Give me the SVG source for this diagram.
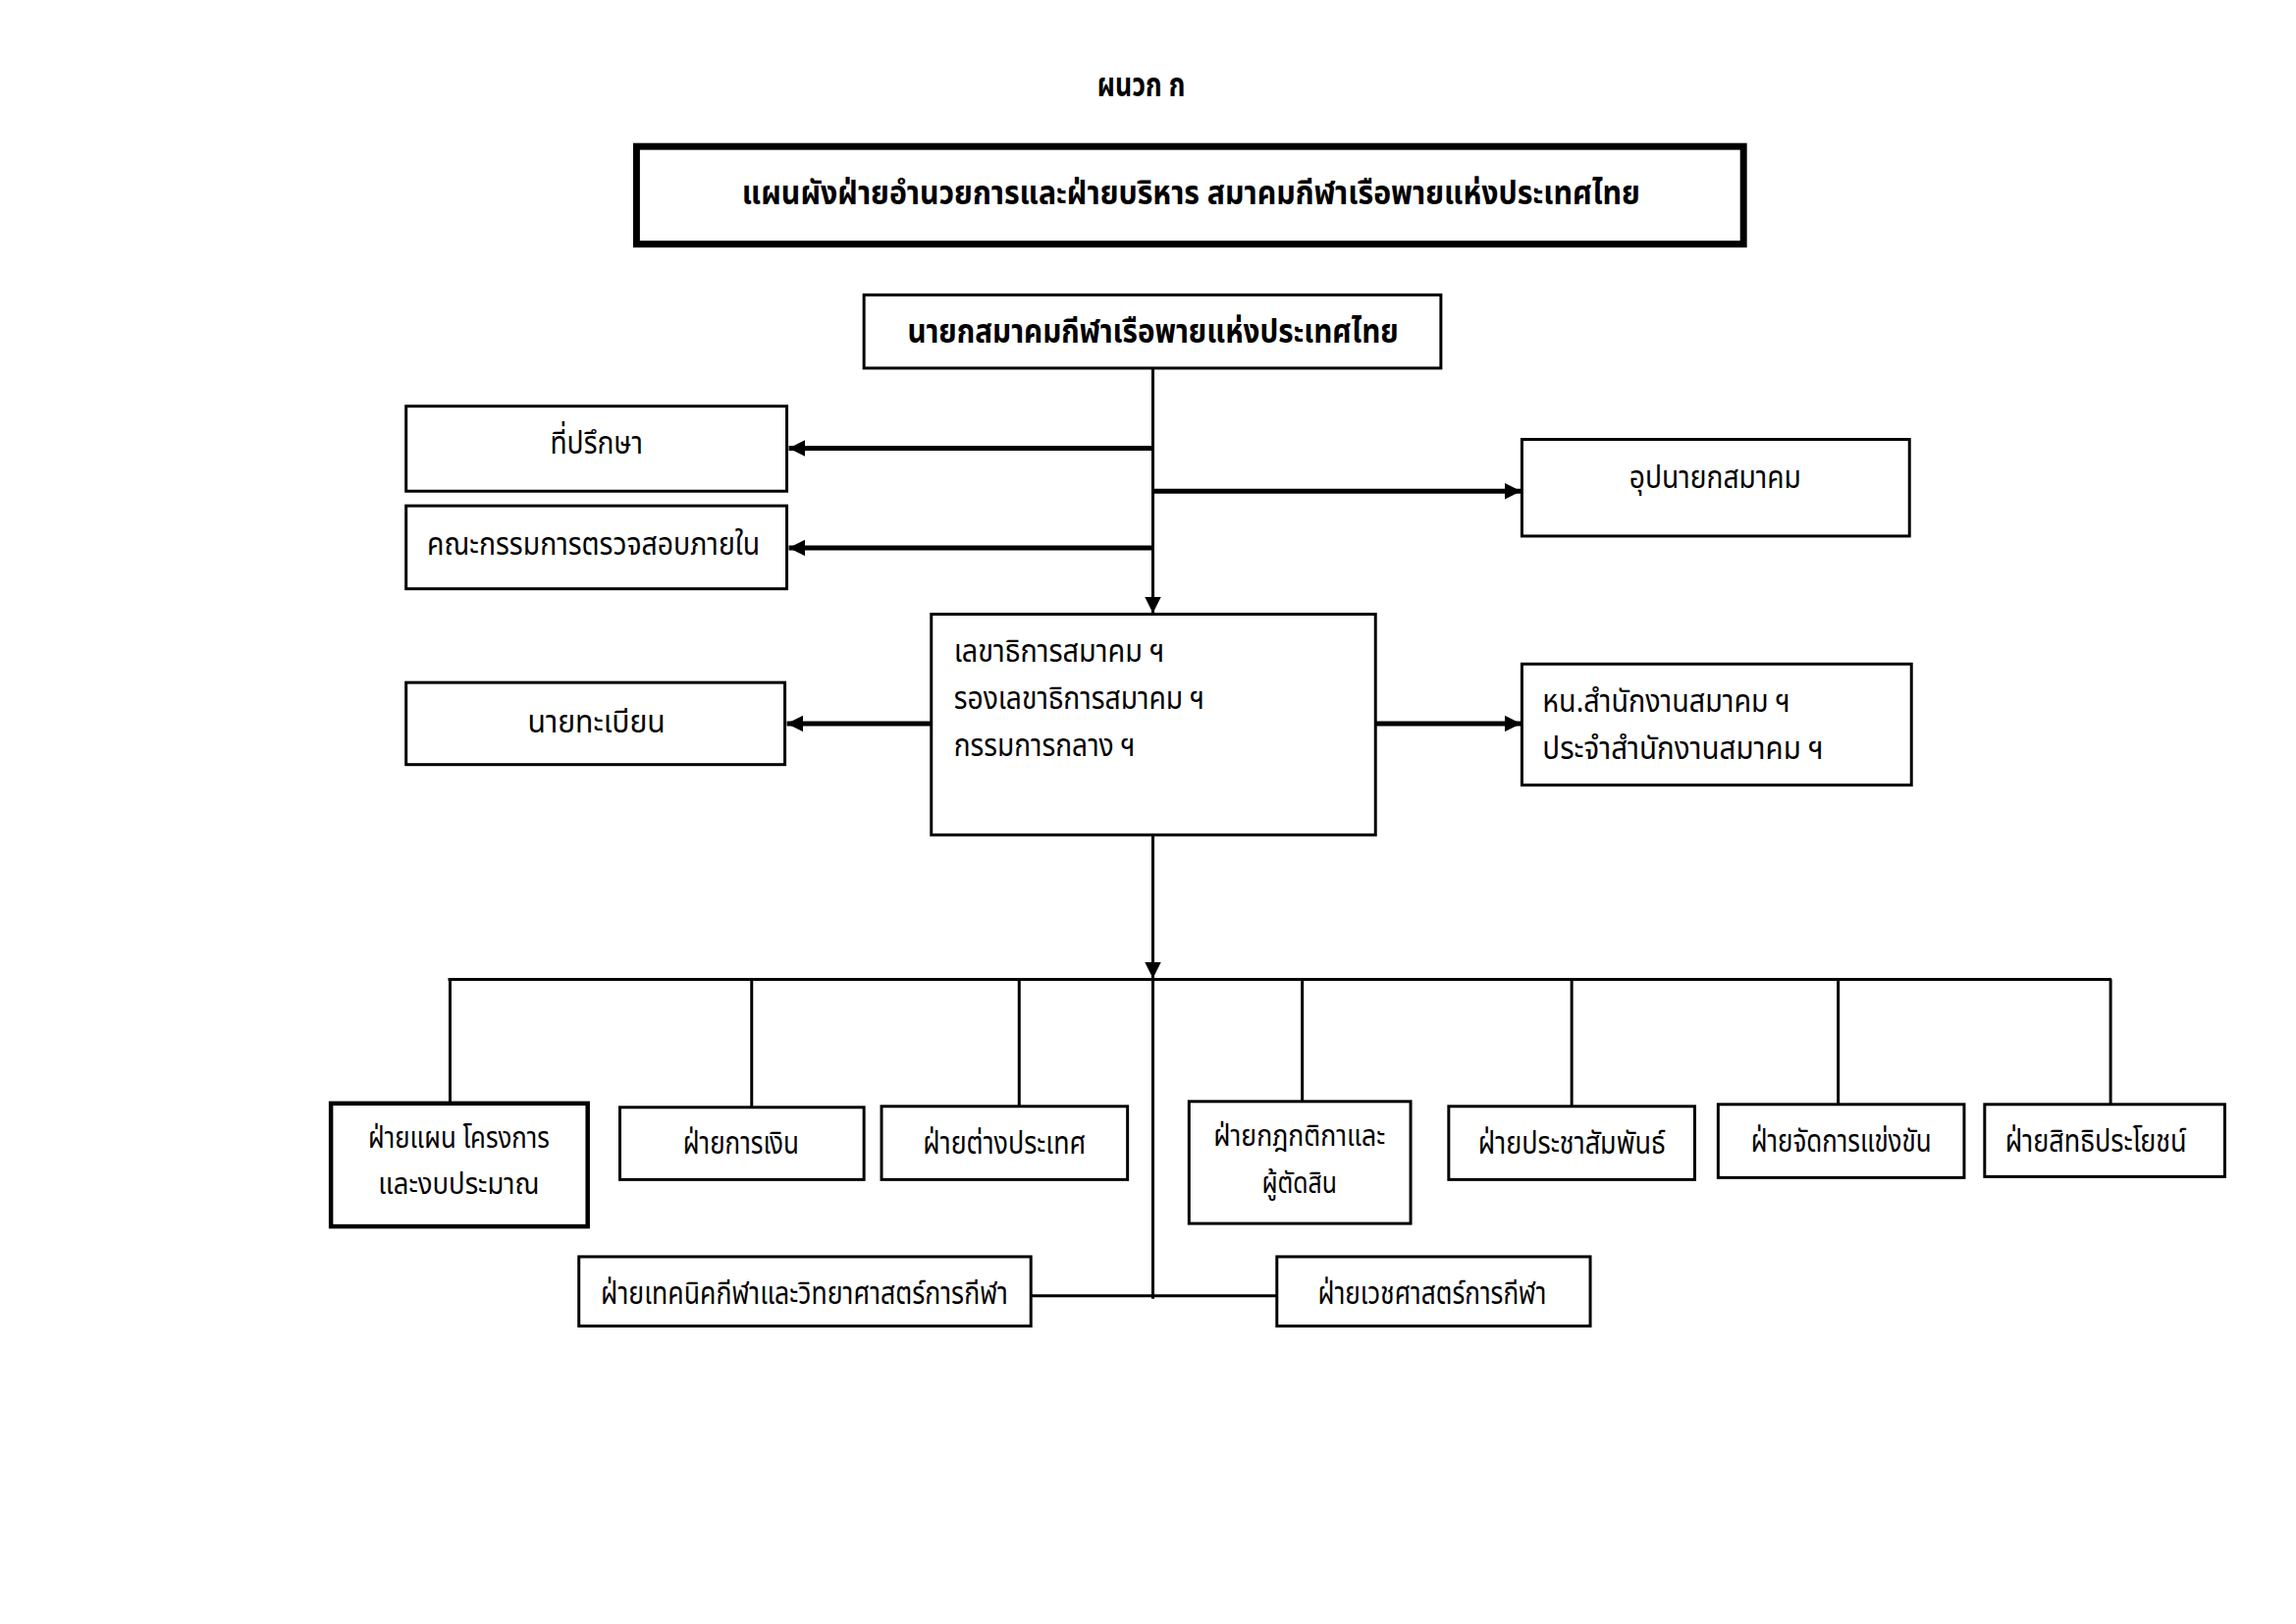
<svg xmlns="http://www.w3.org/2000/svg" width="2339" height="1654" viewBox="0 0 2339 1654">
<style>
  .box{fill:#fff;stroke:#000;stroke-width:3}
  .bx4{fill:#fff;stroke:#000;stroke-width:4.5}
  .t{font-family:"Noto Sans Thai","Noto Sans","DejaVu Sans",sans-serif;font-size:33px;fill:#000}
  .t2{font-size:30px}
  .tc{text-anchor:middle}
  .b{font-weight:bold}
  .ln{stroke:#000;stroke-width:3;fill:none}
  .thick{stroke:#000;stroke-width:5;fill:none}
</style>
<defs>
  <marker id="ah" viewBox="0 0 10 10" refX="10" refY="5" markerWidth="17" markerHeight="17" markerUnits="userSpaceOnUse" orient="auto">
    <path d="M0,0 L10,5 L0,10 z" fill="#000"/>
  </marker>
</defs>
<rect width="2339" height="1654" fill="#fff"/>
<g transform="scale(0.9945)">
<text id="annex" class="t tc b" x="1169" y="99" font-size="30" textLength="90" lengthAdjust="spacingAndGlyphs">ผนวก ก</text>
<g id="title">
  <rect x="652" y="150" width="1134" height="100" fill="#fff" stroke="#000" stroke-width="7"/>
  <text class="t tc b" x="1220" y="209" font-size="36" textLength="920" lengthAdjust="spacingAndGlyphs">แผนผังฝ่ายอำนวยการและฝ่ายบริหาร สมาคมกีฬาเรือพายแห่งประเทศไทย</text>
</g>
<g id="connectors">
  <line class="ln" x1="1181" y1="377" x2="1181" y2="628" marker-end="url(#ah)"/>
  <line class="thick" x1="1181" y1="459" x2="808" y2="459" marker-end="url(#ah)"/>
  <line class="thick" x1="1181" y1="561" x2="808" y2="561" marker-end="url(#ah)"/>
  <line class="thick" x1="1181" y1="503" x2="1558" y2="503" marker-end="url(#ah)"/>
  <line class="thick" x1="954" y1="741" x2="806" y2="741" marker-end="url(#ah)"/>
  <line class="thick" x1="1409" y1="741" x2="1558" y2="741" marker-end="url(#ah)"/>
  <line class="ln" x1="1181" y1="855" x2="1181" y2="1002" marker-end="url(#ah)"/>
  <line class="ln" x1="1181" y1="1002" x2="1181" y2="1330"/>
  <line class="ln" x1="459" y1="1003" x2="2163" y2="1003" stroke-width="3.5"/>
  <line class="ln" x1="461" y1="1003" x2="461" y2="1130"/>
  <line class="ln" x1="770" y1="1003" x2="770" y2="1134"/>
  <line class="ln" x1="1044" y1="1003" x2="1044" y2="1133"/>
  <line class="ln" x1="1334" y1="1003" x2="1334" y2="1128"/>
  <line class="ln" x1="1610" y1="1003" x2="1610" y2="1133"/>
  <line class="ln" x1="1883" y1="1003" x2="1883" y2="1131"/>
  <line class="ln" x1="2162" y1="1003" x2="2162" y2="1131"/>
  <line class="ln" x1="1056" y1="1327" x2="1308" y2="1327"/>
</g>
<g id="president">
  <rect class="box" x="885" y="302" width="591" height="75"/>
  <text class="t tc b" x="1181" y="351" font-size="32" textLength="503" lengthAdjust="spacingAndGlyphs">นายกสมาคมกีฬาเรือพายแห่งประเทศไทย</text>
</g>
<g id="advisor">
  <rect class="box" x="416" y="416" width="390" height="87"/>
  <text class="t tc" x="611" y="465" textLength="95" lengthAdjust="spacingAndGlyphs">ที่ปรึกษา</text>
</g>
<g id="audit">
  <rect class="box" x="416" y="518" width="390" height="85"/>
  <text class="t tc" x="608" y="568" textLength="341" lengthAdjust="spacingAndGlyphs">คณะกรรมการตรวจสอบภายใน</text>
</g>
<g id="vicepresident">
  <rect class="box" x="1559" y="450" width="397" height="99"/>
  <text class="t tc" x="1757" y="500" textLength="176" lengthAdjust="spacingAndGlyphs">อุปนายกสมาคม</text>
</g>
<g id="secretary">
  <rect class="box" x="954" y="629" width="455" height="226"/>
  <text class="t" x="977" y="678" textLength="216" lengthAdjust="spacingAndGlyphs">เลขาธิการสมาคม ฯ</text>
  <text class="t" x="977" y="726" textLength="257" lengthAdjust="spacingAndGlyphs">รองเลขาธิการสมาคม ฯ</text>
  <text class="t" x="977" y="774" textLength="186" lengthAdjust="spacingAndGlyphs">กรรมการกลาง ฯ</text>
</g>
<g id="registrar">
  <rect class="box" x="416" y="699" width="388" height="84"/>
  <text class="t tc" x="611" y="750" textLength="141" lengthAdjust="spacingAndGlyphs">นายทะเบียน</text>
</g>
<g id="office">
  <rect class="box" x="1559" y="680" width="399" height="124"/>
  <text class="t" x="1580" y="729" textLength="254" lengthAdjust="spacingAndGlyphs">หน.สำนักงานสมาคม ฯ</text>
  <text class="t" x="1580" y="777" textLength="288" lengthAdjust="spacingAndGlyphs">ประจำสำนักงานสมาคม ฯ</text>
</g>
<g id="plan">
  <rect class="bx4" x="339" y="1130" width="263" height="126"/>
  <text class="t t2 tc" x="470" y="1175" textLength="186" lengthAdjust="spacingAndGlyphs">ฝ่ายแผน โครงการ</text>
  <text class="t t2 tc" x="470" y="1223" textLength="165" lengthAdjust="spacingAndGlyphs">และงบประมาณ</text>
</g>
<g id="finance">
  <rect class="box" x="635" y="1134" width="250" height="74"/>
  <text class="t tc" x="759" y="1182" textLength="119" lengthAdjust="spacingAndGlyphs">ฝ่ายการเงิน</text>
</g>
<g id="foreign">
  <rect class="box" x="903" y="1133" width="252" height="75"/>
  <text class="t tc" x="1029" y="1181" textLength="167" lengthAdjust="spacingAndGlyphs">ฝ่ายต่างประเทศ</text>
</g>
<g id="rules">
  <rect class="box" x="1218" y="1128" width="227" height="125"/>
  <text class="t t2 tc" x="1331" y="1173" textLength="176" lengthAdjust="spacingAndGlyphs">ฝ่ายกฎกติกาและ</text>
  <text class="t t2 tc" x="1331" y="1222" textLength="77" lengthAdjust="spacingAndGlyphs">ผู้ตัดสิน</text>
</g>
<g id="pr">
  <rect class="box" x="1484" y="1133" width="252" height="75"/>
  <text class="t tc" x="1610" y="1181" textLength="192" lengthAdjust="spacingAndGlyphs">ฝ่ายประชาสัมพันธ์</text>
</g>
<g id="competition">
  <rect class="box" x="1760" y="1131" width="252" height="75"/>
  <text class="t tc" x="1886" y="1179" textLength="185" lengthAdjust="spacingAndGlyphs">ฝ่ายจัดการแข่งขัน</text>
</g>
<g id="benefits">
  <rect class="box" x="2033" y="1131" width="246" height="74"/>
  <text class="t tc" x="2147" y="1179" textLength="186" lengthAdjust="spacingAndGlyphs">ฝ่ายสิทธิประโยชน์</text>
</g>
<g id="technical">
  <rect class="box" x="593" y="1287" width="463" height="71"/>
  <text class="t tc" x="824" y="1335" textLength="417" lengthAdjust="spacingAndGlyphs">ฝ่ายเทคนิคกีฬาและวิทยาศาสตร์การกีฬา</text>
</g>
<g id="sportsmed">
  <rect class="box" x="1308" y="1287" width="321" height="71"/>
  <text class="t tc" x="1467" y="1335" textLength="234" lengthAdjust="spacingAndGlyphs">ฝ่ายเวชศาสตร์การกีฬา</text>
</g>
</g>
</svg>
